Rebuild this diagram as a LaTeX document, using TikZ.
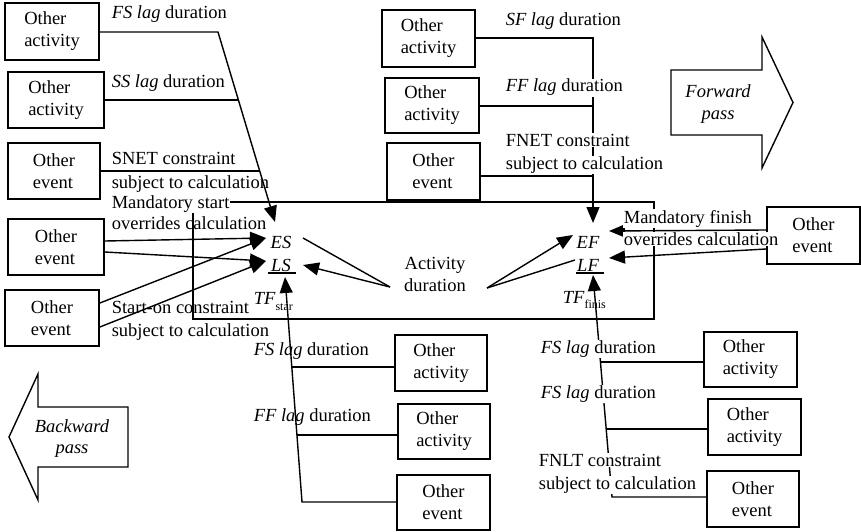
\documentclass[tikz,border=0pt]{standalone}
\usepackage{fontspec}
\setmainfont{Liberation Serif}
\usetikzlibrary{arrows.meta}
\begin{document}
\begin{tikzpicture}[x=1pt,y=-1pt,
  every node/.style={font=\fontsize{18.5}{22}\selectfont},
  box/.style={draw, line width=1.8pt, align=left, inner sep=0pt},
  lbl/.style={anchor=base west, inner sep=0.6pt},
  wlbl/.style={lbl, fill=white},
  itl/.style={font=\fontsize{18.5}{22}\selectfont\itshape, inner sep=0.5pt, anchor=base},
  conn/.style={line width=1.4pt},
  arr/.style={conn, -{Triangle[length=16pt,width=13pt]}},
  bigarrow/.style={line width=1.4pt, line join=miter}
]
\useasboundingbox (0,0) rectangle (861,532);

% central frame
\node[draw, line width=1.7pt, minimum width=461pt, minimum height=117pt, inner sep=0pt] (frame) at (423.5,260.5) {};

% left boxes
\node[box, minimum width=94pt, minimum height=57pt] (a1) at (52,31.5) {Other\\activity};
\node[box, minimum width=96pt, minimum height=56pt] (a2) at (56,100) {Other\\activity};
\node[box, minimum width=92pt, minimum height=56pt] (a3) at (54,171) {Other\\event};
\node[box, minimum width=96pt, minimum height=56pt] (a4) at (56,247) {Other\\event};
\node[box, minimum width=94pt, minimum height=56pt] (a5) at (52,318) {Other\\event};

% top boxes
\node[box, minimum width=93pt, minimum height=57pt] (t1) at (428.5,38.5) {Other\\activity};
\node[box, minimum width=94pt, minimum height=55pt] (t2) at (432,105.5) {Other\\activity};
\node[box, minimum width=93pt, minimum height=57pt] (t3) at (433.5,171.5) {Other\\event};

% right box
\node[box, minimum width=93pt, minimum height=57pt] (e1) at (813.5,235.5) {Other\\event};

% bottom middle boxes
\node[box, minimum width=92pt, minimum height=56pt] (b1) at (441,363) {Other\\activity};
\node[box, minimum width=92pt, minimum height=55pt] (b2) at (444,431.5) {Other\\activity};
\node[box, minimum width=93pt, minimum height=55pt] (b3) at (443.5,502.5) {Other\\event};

% bottom right boxes
\node[box, minimum width=93pt, minimum height=55pt] (r1) at (750.5,359.5) {Other\\activity};
\node[box, minimum width=93pt, minimum height=56pt] (r2) at (754.5,427) {Other\\activity};
\node[box, minimum width=92pt, minimum height=56pt] (r3) at (753,499) {Other\\event};

% key values
\node[itl] (ES) at (281,248) {ES};
\node[itl] (LS) at (281,271) {LS};
\node[itl] (EF) at (588,248) {EF};
\node[itl] (LF) at (588,271) {LF};
\draw[conn] (268,273) -- (296,273);
\draw[conn] (576,273) -- (604,273);
\node[lbl] (TFs) at (253,304) {\textit{TF}\raisebox{-6pt}{\fontsize{12}{12}\selectfont star}};
\node[lbl] (TFf) at (562,303) {\textit{TF}\raisebox{-5pt}{\fontsize{12}{12}\selectfont finis}};

% coordinates
\coordinate (j1) at (218,32);
\coordinate (esT) at (275,222);
\coordinate (j2) at (238.4,100);
\coordinate (j3) at (259.7,171);
\coordinate (esL) at (266,238);
\coordinate (lsL) at (266,261);
\coordinate (adL) at (390,287);
\coordinate (adR) at (487,288);
\coordinate (esR) at (303,238);
\coordinate (lsR) at (303,265);
\coordinate (efL) at (573,235);
\coordinate (lfL) at (575,260);
\coordinate (jt1) at (593,38);
\coordinate (jt2) at (593,106);
\coordinate (jt3) at (593,176);
\coordinate (efT) at (593,223);
\coordinate (efR) at (609,231);
\coordinate (lfR) at (609,258);
\coordinate (jb1) at (291.8,367);
\coordinate (jb2) at (297,435);
\coordinate (jb3) at (302,502);
\coordinate (tfsT) at (285,277);
\coordinate (jr1) at (600.6,362);
\coordinate (jr2) at (606.3,429);
\coordinate (jr3) at (612,497);
\coordinate (tffT) at (593,275);

% left connectors
\draw[arr] (a1.east |- j1) -- (j1) -- (esT);
\draw[conn] (a2.east |- j2) -- (j2);
\draw[conn] (a3.east |- j3) -- (j3);
\draw[arr] ([yshift=6pt]a4.east) -- (esL);
\draw[arr] ([yshift=-5pt]a4.east) -- (lsL);
\draw[arr] ([yshift=15pt]a5.east) -- (esL);
\draw[arr] ([yshift=-9pt]a5.east) -- (lsL);

% activity duration
\node[anchor=base] (ad1) at (435,269) {Activity};
\node[anchor=base] (ad2) at (435,291) {duration};
\draw[conn] (adL) -- (esR);
\draw[arr] (adL) -- (lsR);
\draw[arr] (adR) -- (efL);
\draw[conn] (adR) -- (lfL);

% top right connectors
\draw[arr] (t1.east |- jt1) -- (jt1) -- (efT);
\draw[conn] (t2.east |- jt2) -- (jt2);
\draw[conn] (t3.east |- jt3) -- (jt3);

% right box connectors
\draw[arr] ([yshift=5.5pt]e1.west) -- (efR);
\draw[arr] ([yshift=-13.5pt]e1.west) -- (lfR);

% bottom middle connectors
\draw[arr] (b3.west |- jb3) -- (jb3) -- (tfsT);
\draw[conn] (b1.west |- jb1) -- (jb1);
\draw[conn] (b2.west |- jb2) -- (jb2);

% bottom right connectors
\draw[arr] (r3.west |- jr3) -- (jr3) -- (tffT);
\draw[conn] (r1.west |- jr1) -- (jr1);
\draw[conn] (r2.west |- jr2) -- (jr2);

% labels left
\node[lbl] (l1) at (111,19) {\textit{FS lag} duration};
\node[lbl] (l2) at (111,88) {\textit{SS lag} duration};
\node[lbl] (l3) at (111,164) {SNET constraint};
\node[lbl] (l4) at (111,188) {subject to calculation};
\node[wlbl] (l5) at (111,208) {Mandatory start};
\node[lbl] (l6) at (111,229) {overrides calculation};
\node[lbl] (l7) at (111,313) {Start-on constraint};
\node[lbl] (l8) at (111,336) {subject to calculation};

% labels bottom middle
\node[lbl] (l9) at (253,355) {\textit{FS lag} duration};
\node[lbl] (l10) at (253,421) {\textit{FF lag} duration};

% labels top right
\node[lbl] (l11) at (505,26) {\textit{SF lag} duration};
\node[wlbl] (l12) at (505,92) {\textit{FF lag} duration};
\node[wlbl] (l13) at (505,146) {FNET constraint};
\node[wlbl] (l14) at (505,169) {subject to calculation};

% labels right
\node[wlbl] (l15) at (623,223) {Mandatory finish};
\node[wlbl] (l16) at (623,245) {overrides calculation};

% labels bottom right
\node[wlbl] (l17) at (540,353) {\textit{FS lag} duration};
\node[wlbl] (l18) at (540,398) {\textit{FS lag} duration};
\node[wlbl] (l19) at (538,466) {FNLT constraint};
\node[wlbl] (l20) at (538,489) {subject to calculation};

% big arrows
\draw[bigarrow] (671,70) -- (762,70) -- (762,37) -- (793,102.5) -- (762,168) -- (762,135) -- (671,135) -- cycle;
\node[itl] (fw1) at (718,98) {Forward};
\node[itl] (fw2) at (718,120) {pass};
\draw[bigarrow] (128,407) -- (38,407) -- (38,374) -- (9,437) -- (38,500) -- (38,467) -- (128,467) -- cycle;
\node[itl] (bw1) at (72,432) {Backward};
\node[itl] (bw2) at (72,453) {pass};
\end{tikzpicture}
\end{document}
